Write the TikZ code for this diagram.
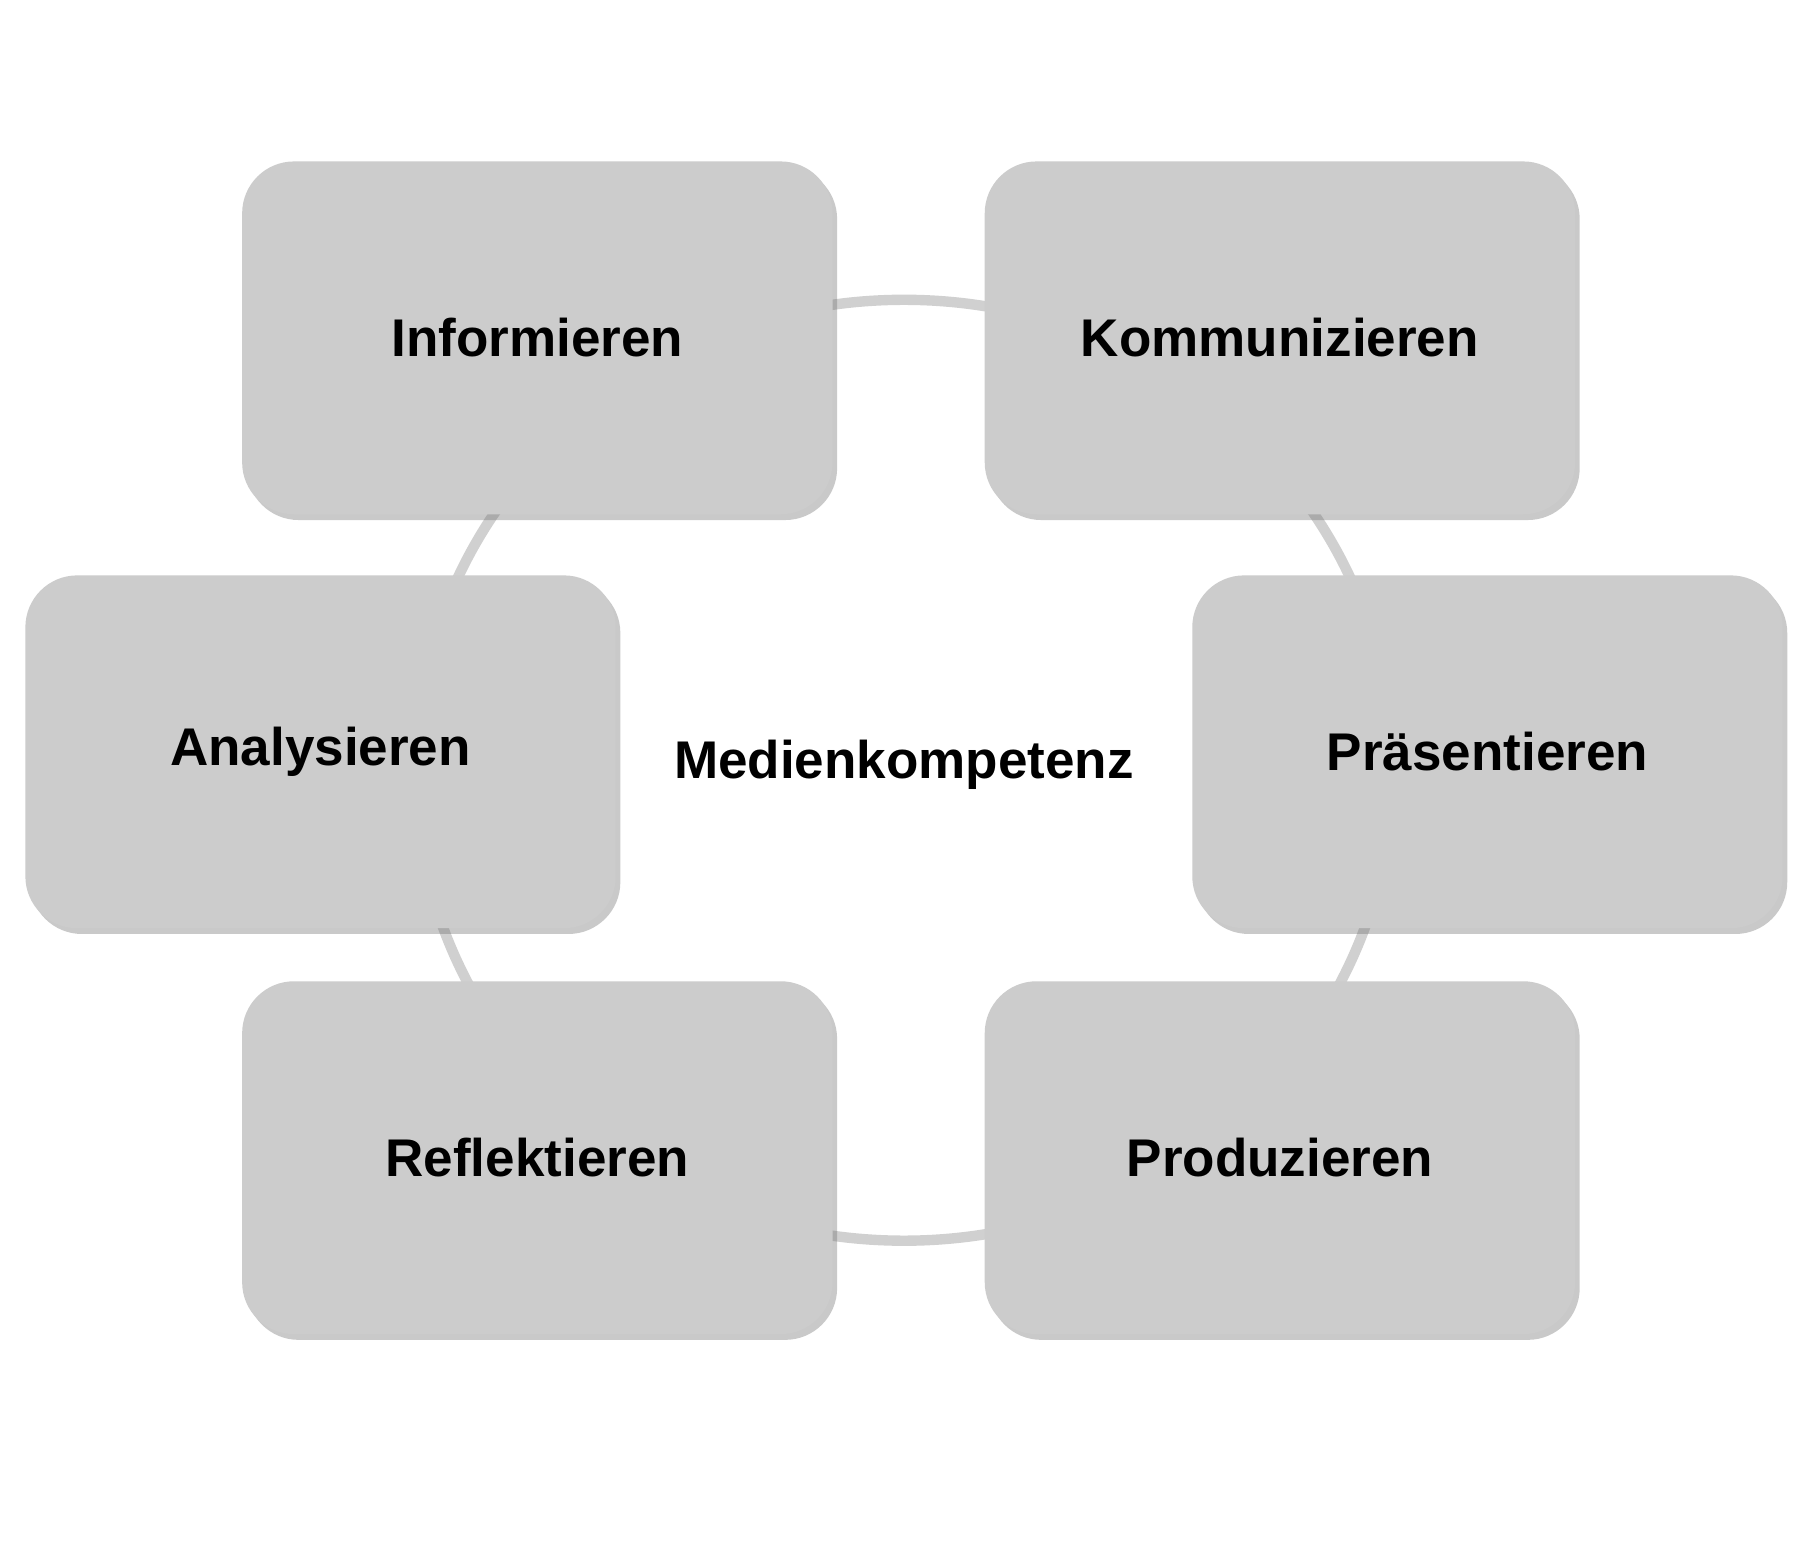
\documentclass[tikz,border=0pt]{standalone}
\usepackage{fontspec}
\setmainfont{Liberation Sans}
\usetikzlibrary{shadows}
\definecolor{boxgray}{HTML}{CCCCCC}
\definecolor{ringgray}{HTML}{D0D0D0}
\begin{document}
\begin{tikzpicture}[x=1pt,y=-1pt,
  card/.style={rectangle, rounded corners=45pt, fill=boxgray, minimum width=512pt, minimum height=306pt,
    font=\fontsize{46}{50}\selectfont\bfseries, inner sep=0pt,
    drop shadow={shadow xshift=4pt, shadow yshift=-5pt, opacity=0.35, fill=black!60}},
  lbl/.style={font=\fontsize{46}{50}\selectfont\bfseries}]
\useasboundingbox (0,0) rectangle (1568,1337);
\fill[white] (0,0) rectangle (1568,1337);
\draw[ringgray, line width=9pt] (784,668) ellipse [x radius=424, y radius=408];
\node[card] (inf) at (466,293) {Informieren};
\node[card] (kom) at (1110,293) {Kommunizieren};
\node[card] (ana) at (278,652) {Analysieren};
\node[card] (pra) at (1290,652) {Präsentieren};
\node[card] (ref) at (466,1004) {Reflektieren};
\node[card] (pro) at (1110,1004) {Produzieren};
\node[lbl] (mk) at (784,663) {Medienkompetenz};
\end{tikzpicture}
\end{document}
